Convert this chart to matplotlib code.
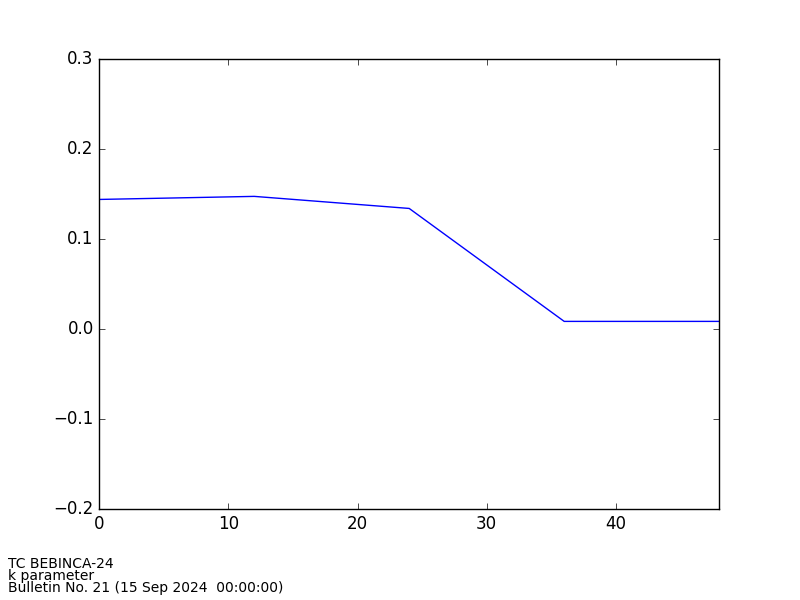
import matplotlib
matplotlib.use('Agg')
import matplotlib.pyplot as plt

plt.style.use('classic')

# forecast hours and k parameter
hours = [0, 12, 24, 36, 48]
k_values = [0.1444, 0.1478, 0.1344, 0.0089, 0.0089]

info_lines = ['TC BEBINCA-24', 'k parameter',
              'Bulletin No. 21 (15 Sep 2024  00:00:00)']

fig = plt.figure(figsize=(8, 6), facecolor='w')
fig.subplots_adjust(left=0.124, right=0.899, top=0.901, bottom=0.151)
ax = fig.add_subplot(111)
ax.plot(hours, k_values, 'b-')
ax.set_xlim(0, 48)
ax.set_ylim(-0.2, 0.3)
ax.set_xticks([0, 10, 20, 30, 40])
ax.set_yticks([-0.2, -0.1, 0.0, 0.1, 0.2, 0.3])

for i, line in enumerate(info_lines):
    fig.text(0.01, 1 - (568 + 12 * i) / 600., line, fontsize=10, va='baseline')

fig.savefig('out.png', dpi=100, facecolor='w')
